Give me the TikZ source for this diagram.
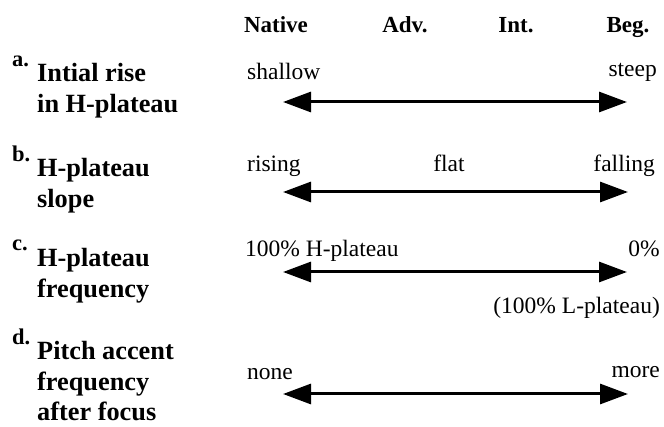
\documentclass[tikz,border=0pt]{standalone}
\usepackage{fontspec}
\setmainfont{Liberation Serif}
\usetikzlibrary{arrows.meta}
\begin{document}
\begin{tikzpicture}[x=1pt,y=-1pt,
  hdr/.style={font=\fontsize{23}{27}\selectfont\bfseries, inner sep=0pt, anchor=base},
  val/.style={font=\fontsize{23.5}{28}\selectfont, inner sep=0pt},
  lbl/.style={font=\fontsize{26.3}{30.5}\selectfont\bfseries, inner sep=0pt, anchor=base west},
  let/.style={font=\fontsize{22.5}{26}\selectfont\bfseries, inner sep=0pt, anchor=base west},
  arr/.style={line width=3pt, {Triangle[length=28pt,width=20pt]}-{Triangle[length=28pt,width=20pt]}}]
\useasboundingbox (0,0) rectangle (664,427);
% headers
\node[hdr] (hN) at (276,33) {Native};
\node[hdr] (hA) at (405,33) {Adv.};
\node[hdr] (hI) at (516,33) {Int.};
\node[hdr] (hB) at (628,33) {Beg.};
% row labels
\node[let] (la) at (12,67) {a.};
\node[lbl] (ta) at (37,82) {\begin{tabular}[t]{@{}l@{}}Intial rise\\in H-plateau\end{tabular}};
\node[let] (lb) at (12,162) {b.};
\node[lbl] (tb) at (37,177) {\begin{tabular}[t]{@{}l@{}}H-plateau\\slope\end{tabular}};
\node[let] (lc) at (12,251) {c.};
\node[lbl] (tc) at (37,267) {\begin{tabular}[t]{@{}l@{}}H-plateau\\frequency\end{tabular}};
\node[let] (ld) at (12,345) {d.};
\node[lbl] (td) at (37,360) {\begin{tabular}[t]{@{}l@{}}Pitch accent\\frequency\\after focus\end{tabular}};
% values
\node[val, anchor=base west] (va1) at (247,80) {shallow};
\node[val, anchor=base east] (va2) at (657,77) {steep};
\node[val, anchor=base west] (vb1) at (247,172) {rising};
\node[val, anchor=base] (vb2) at (449,172) {flat};
\node[val, anchor=base east] (vb3) at (655,172) {falling};
\node[val, anchor=base west] (vc1) at (245,257) {100\% H-plateau};
\node[val, anchor=base east] (vc2) at (660,257) {0\%};
\node[val, anchor=base east] (vc3) at (660,314) {(100\% L-plateau)};
\node[val, anchor=base west] (vd1) at (247,380) {none};
\node[val, anchor=base east] (vd2) at (660,378) {more};
% arrows
\coordinate (aL) at (283,102); \coordinate (aR) at (627,102);
\coordinate (bL) at (283,192); \coordinate (bR) at (628,192);
\coordinate (cL) at (283,272); \coordinate (cR) at (627,272);
\coordinate (dL) at (283,394); \coordinate (dR) at (628,394);
\draw[arr] (aL) -- (aR);
\draw[arr] (bL) -- (bR);
\draw[arr] (cL) -- (cR);
\draw[arr] (dL) -- (dR);
\end{tikzpicture}
\end{document}
